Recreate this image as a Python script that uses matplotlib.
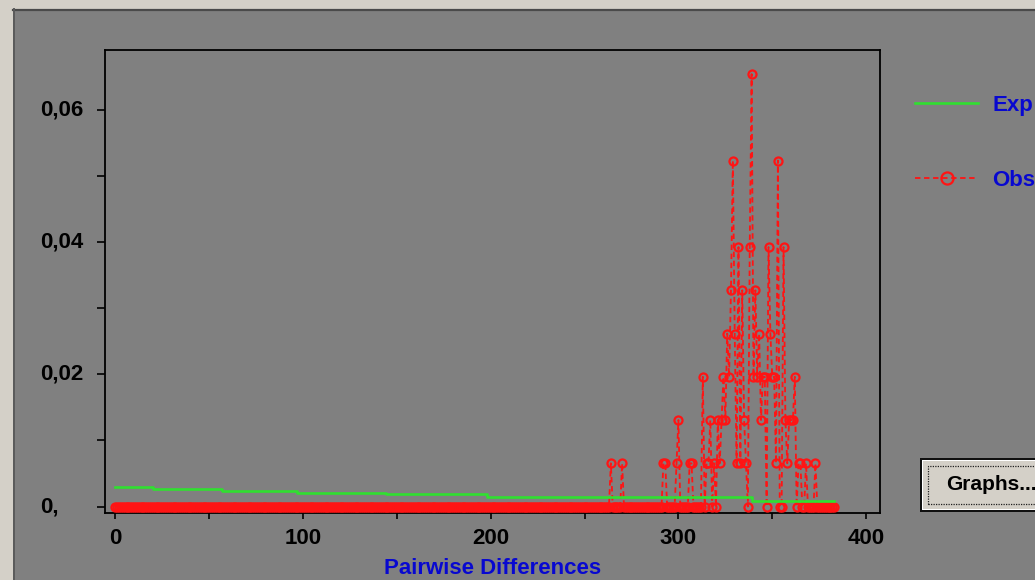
import numpy as np
import matplotlib
matplotlib.use("Agg")
import matplotlib.pyplot as plt
from matplotlib.patches import Rectangle
from matplotlib.lines import Line2D
from matplotlib.transforms import blended_transform_factory

# ---------------- data ----------------
n_pairs = 153                      # 18 sequences -> 153 pairwise comparisons
obs_x_max = 383                    # observed series covers 0..383 differences
obs_peak_x = [264, 270, 292, 293, 299, 300, 306, 307, 313, 315, 316, 317,
              319, 321, 322, 323, 324, 325, 326, 327, 328, 329, 330, 331,
              332, 333, 334, 335, 336, 338, 339, 340, 341, 342, 343, 344,
              345, 346, 348, 349, 350, 351, 352, 353, 356, 357, 358, 359,
              360, 361, 362, 364, 365, 368, 373]
obs_peak_count = [1, 1, 1, 1, 1, 2, 1, 1, 3, 1, 1, 2,
                  1, 2, 1, 2, 3, 2, 4, 3, 5, 8, 4, 1,
                  6, 1, 5, 2, 1, 6, 10, 3, 5, 3, 4, 2,
                  3, 3, 6, 4, 3, 3, 1, 8, 6, 2, 1, 2,
                  2, 2, 3, 1, 1, 1, 1]

exp_step_x = [0, 20, 57, 97, 144, 198, 339, 383]
exp_step_y = [0.0030, 0.0026, 0.0024, 0.0021, 0.0019, 0.0015, 0.0009, 0.0009]

x_ticks = [0, 100, 200, 300, 400]
x_tick_labels = ["0", "100", "200", "300", "400"]
x_minor = [50, 150, 250, 350]
y_ticks = [0.0, 0.02, 0.04, 0.06]
y_tick_labels = ["0,", "0,02", "0,04", "0,06"]
y_minor = [0.01, 0.03, 0.05]

series_names = ["Exp", "Obs"]
x_label = "Pairwise Differences"
button_text = "Graphs..."

# ---------------- style ----------------
W, H = 1035, 580
plt.rcParams["font.family"] = ["Liberation Sans", "DejaVu Sans"]
plt.rcParams["font.weight"] = "bold"

def fx(px):
    return px / W

def fy(py):
    return 1 - py / H

PANEL = "#808080"
BEIGE = "#D4D0C8"
RED = "#FF1414"
GREEN = "#30E030"
BLUE = "#0808D0"

fig = plt.figure(figsize=(W / 100, H / 100), dpi=100, facecolor=BEIGE)

# window panel
fig.add_artist(Rectangle((fx(13), 0), 1 - fx(13), fy(9), transform=fig.transFigure,
                         facecolor=PANEL, edgecolor="none", zorder=0))
fig.add_artist(Line2D([fx(13), 1], [fy(9.5), fy(9.5)], transform=fig.transFigure,
                      color="#4a4a4a", lw=1.6, zorder=1))
fig.add_artist(Line2D([fx(13.5), fx(13.5)], [0, fy(9)], transform=fig.transFigure,
                      color="#5a5a5a", lw=1.4, zorder=1))

ax = fig.add_axes([fx(105), fy(513), (880 - 105) / W, (513 - 50) / H])
ax.set_facecolor(PANEL)

# observed series: one value per number of differences
obs_x = np.arange(0, obs_x_max + 1)
obs_count = np.zeros(obs_x.shape, dtype=float)
for xv, cv in zip(obs_peak_x, obs_peak_count):
    obs_count[xv] = cv
obs_freq = obs_count / n_pairs

obs_line, = ax.plot(obs_x, obs_freq, color=RED, lw=1.3, dashes=(3, 2),
                    marker="o", ms=5.8, mfc="none", mec=RED, mew=1.6,
                    label=series_names[1], zorder=3)
exp_line, = ax.step(exp_step_x, exp_step_y, where="post", color=GREEN, lw=1.9,
                    label=series_names[0], zorder=4)

ax.set_xlim(-5.5, 407.4)
ax.set_ylim(-0.00098, 0.0690)

for s in ax.spines.values():
    s.set_color("black")
    s.set_linewidth(1.3)

ax.set_xticks(x_ticks)
ax.set_xticklabels(x_tick_labels)
ax.set_xticks(x_minor, minor=True)
ax.tick_params(axis="x", which="both", direction="out", length=4, width=1.2,
               pad=7, labelsize=16, colors="black")
ax.set_yticks(y_ticks)
ax.set_yticks(y_minor, minor=True)
ax.tick_params(axis="y", which="both", direction="out", length=6, width=1.2,
               labelleft=False)

ytrans = blended_transform_factory(fig.transFigure, ax.transData)
for yv, lab in zip(y_ticks, y_tick_labels):
    ax.text(fx(40), yv, lab, transform=ytrans, ha="left", va="center",
            fontsize=16, fontweight="bold", color="black", clip_on=False)

fig.text((105 + 880) / 2 / W, fy(569), x_label, ha="center", va="center",
         fontsize=16, fontweight="bold", color=BLUE)

# legend
leg = fig.legend(handles=[exp_line, obs_line], labels=series_names,
                 loc="upper left", bbox_to_anchor=(fx(915), fy(95)),
                 frameon=False, fontsize=16, handlelength=2.84,
                 handletextpad=0.63, labelspacing=2.42, borderpad=0,
                 borderaxespad=0, numpoints=1, markerscale=1.5)
for t in leg.get_texts():
    t.set_color(BLUE)
    t.set_fontweight("bold")

# "Graphs..." button
fig.add_artist(Rectangle((fx(920), fy(512)), 1, (512 - 458) / H,
                         transform=fig.transFigure, facecolor="#101010",
                         edgecolor="none", zorder=5))
fig.add_artist(Rectangle((fx(921.5), fy(510)), 1, (510 - 459.5) / H,
                         transform=fig.transFigure, facecolor="white",
                         edgecolor="none", zorder=5))
fig.add_artist(Rectangle((fx(923), fy(509)), 1, (509 - 461) / H,
                         transform=fig.transFigure, facecolor=BEIGE,
                         edgecolor="none", zorder=5))
fig.add_artist(Rectangle((fx(928), fy(504)), 1, (504 - 466) / H,
                         transform=fig.transFigure, facecolor="none",
                         edgecolor="#202020", lw=0.9, ls=(0, (1, 1)), zorder=6))
fig.text(fx(946), fy(485), button_text, ha="left", va="center", fontsize=15,
         fontweight="bold", color="black", zorder=7)

fig.savefig("out.png", dpi=100, facecolor=BEIGE)
